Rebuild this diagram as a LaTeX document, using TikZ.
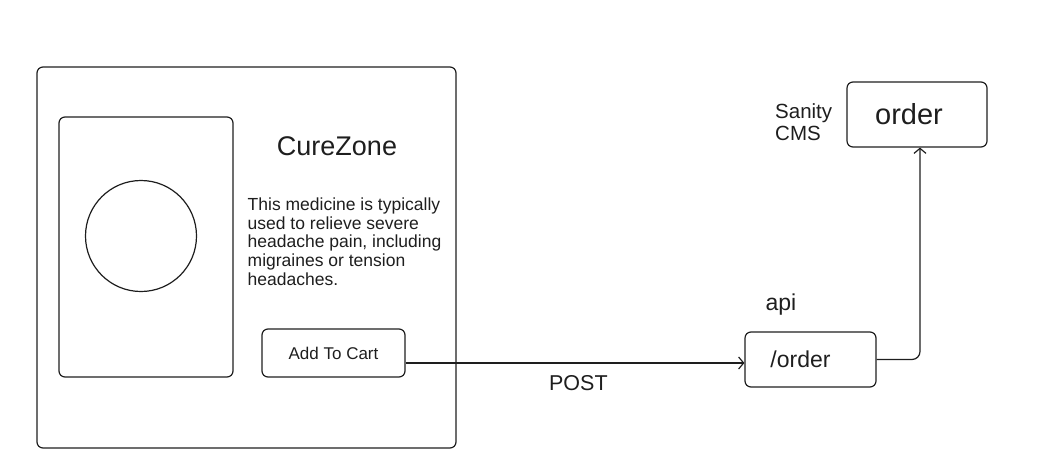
\documentclass[tikz,border=0pt]{standalone}
\usepackage{fontspec}
\setmainfont{Liberation Sans}
\usetikzlibrary{arrows.meta,positioning}
\definecolor{ink}{HTML}{1E1E1E}
\newcommand\fsz[2]{\fontsize{#1}{#2}\selectfont}
\tikzset{
  sketch/.style={draw=ink, line width=1.2pt, rounded corners=6pt, inner sep=0pt},
  label/.style={text=ink, inner sep=0pt},
  link/.style={draw=ink, line width=1.2pt, -{Straight Barb[length=5pt,width=12pt]}},
}

\begin{document}
\begin{tikzpicture}[x=1pt,y=-1pt]
\useasboundingbox (0,0) rectangle (1038,474);
% product card
\node[sketch, minimum width=419pt, minimum height=381pt] (card) at (246.5,257.5) {};
\node[sketch, minimum width=174pt, minimum height=260pt] (photo) at (146,247) {};
\node[draw=ink, line width=1.2pt, circle, minimum size=111pt, inner sep=0pt] (pill) at (141,236) {};
\node[label, font=\fsz{27}{32}] (title) at (337,146) {CureZone};
\node[label, anchor=north west, align=left, font=\fsz{17.5}{18.8}] (desc) at (247.5,197.5)
  {This medicine is typically\\used to relieve severe\\headache pain, including\\migraines or tension\\headaches.};
\node[sketch, minimum width=143pt, minimum height=48pt, font=\fsz{17}{20}, text=ink] (cart) at (333.5,353) {Add To Cart};
% api endpoint
\node[sketch, minimum width=131pt, minimum height=55pt, font=\fsz{23}{26}, text=ink] (api) at (810.5,359.5) {/order\hspace*{20pt}};
\node[label, anchor=base, font=\fsz{23}{26}] (apilbl) at (781,310.5) {api};
% cms document
\node[sketch, minimum width=140pt, minimum height=65pt, font=\fsz{29}{32}, text=ink] (cms) at (917,114.5) {order\hspace*{16pt}};
\node[label, anchor=north west, align=left, font=\fsz{20.5}{22}] (cmslbl) at (775,103) {Sanity\\CMS};
% requests
\coordinate (out) at ([yshift=-10pt]cart.east);
\draw[link] (out) -- (out -| api.west) node[pos=0.51, below=12pt, label, font=\fsz{21.5}{24}] (post) {POST};
\draw[link, rounded corners=8pt] (api.east) -| ([xshift=3pt]cms.south);
\end{tikzpicture}
\end{document}
